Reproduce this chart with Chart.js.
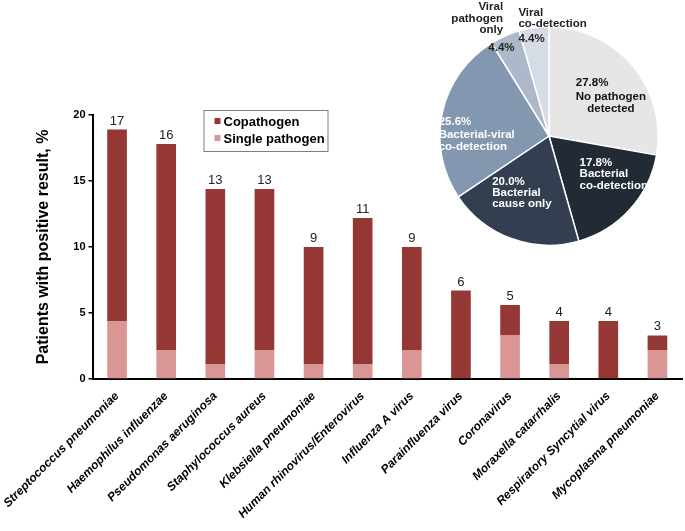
<!DOCTYPE html>
<html>
<head>
<meta charset="utf-8">
<script src="https://cdn.jsdelivr.net/npm/chart.js@4.4.1/dist/chart.umd.min.js"></script>
<style>
  html, body { margin: 0; padding: 0; background: #fff; }
  #wrap { position: relative; width: 685px; height: 531px; }
  #barChart { position: absolute; left: 0; top: 0; }
  #pieChart { position: absolute; left: 429px; top: 0; }
</style>
</head>
<body>
<div id="wrap">
  <canvas id="barChart" width="685" height="531"></canvas>
  <canvas id="pieChart" width="240" height="256"></canvas>
</div>
<script>
const FONT = '"Liberation Sans", Arial, sans-serif';

// Barres : % de patients positifs
const pathogenes = [
  'Streptococcus pneumoniae', 'Haemophilus influenzae', 'Pseudomonas aeruginosa',
  'Staphylococcus aureus', 'Klebsiella pneumoniae', 'Human rhinovirus/Enterovirus',
  'Influenza A virus', 'Parainfluenza virus', 'Coronavirus', 'Moraxella catarrhalis',
  'Respiratory Syncytial virus', 'Mycoplasma pneumoniae'
];
const singlePathogen = [4.4, 2.2, 1.1, 2.2, 1.1, 1.1, 2.2, 0, 3.3, 1.1, 0, 2.2];
const copathogen     = [14.5, 15.6, 13.3, 12.2, 8.9, 11.1, 7.8, 6.7, 2.3, 3.3, 4.4, 1.1];
const comptes        = [17, 16, 13, 13, 9, 11, 9, 6, 5, 4, 4, 3];
const yTicks         = [0, 5, 10, 15, 20];

// Camembert
const pieLabels = ['No pathogen detected', 'Bacterial co-detection', 'Bacterial cause only',
                   'Bacterial-viral co-detection', 'Viral pathogen only', 'Viral co-detection'];
const pieLignes = [['No pathogen', 'detected'], ['Bacterial', 'co-detection'], ['Bacterial', 'cause only'],
                   ['Bacterial-viral', 'co-detection'], ['Viral', 'pathogen', 'only'], ['Viral', 'co-detection']];
const pieValues = [27.8, 17.8, 20.0, 25.6, 4.4, 4.4];
const pieCouleurs = ['#E7E6E6', '#222A35', '#333F50', '#8497B0', '#ADB9CA', '#D6DCE5'];

const etiquettesValeurs = {
  id: 'etiquettesValeurs',
  afterDatasetsDraw(chart) {
    const ctx = chart.ctx;
    const meta = chart.getDatasetMeta(1);
    ctx.save();
    ctx.font = `13px ${FONT}`;
    ctx.fillStyle = '#222';
    ctx.textAlign = 'center';
    ctx.textBaseline = 'alphabetic';
    meta.data.forEach((bar, i) => ctx.fillText(comptes[i], bar.x, bar.y - 5));
    ctx.restore();
  }
};

const legendeBoite = {
  id: 'legendeBoite',
  afterDraw(chart) {
    const ctx = chart.ctx;
    const { left, top } = chart.chartArea;
    const x = left + 111, y = top - 5, w = 124, h = 41;
    ctx.save();
    ctx.strokeStyle = '#7f7f7f';
    ctx.lineWidth = 1;
    ctx.strokeRect(x + 0.5, y + 0.5, w, h);
    ctx.font = `bold 13px ${FONT}`;
    ctx.textBaseline = 'middle';
    const items = chart.data.datasets.slice().reverse();
    items.forEach((ds, i) => {
      const cy = y + 11 + i * 17;
      ctx.fillStyle = ds.backgroundColor;
      ctx.fillRect(x + 11, cy - 3, 6, 6);
      ctx.fillStyle = '#000';
      ctx.fillText(ds.label, x + 20, cy + 1);
    });
    ctx.restore();
  }
};

new Chart(document.getElementById('barChart'), {
  type: 'bar',
  data: {
    labels: pathogenes,
    datasets: [
      { label: 'Single pathogen', data: singlePathogen, backgroundColor: '#D99694' },
      { label: 'Copathogen', data: copathogen, backgroundColor: '#953735' }
    ]
  },
  options: {
    responsive: false,
    animation: false,
    events: [],
    layout: { padding: { top: 115, right: 3, left: 0, bottom: 0 } },
    datasets: { bar: { barPercentage: 0.4, categoryPercentage: 1 } },
    plugins: { legend: { display: false }, tooltip: { enabled: false } },
    scales: {
      x: {
        stacked: true,
        grid: { display: false },
        border: { color: '#000', width: 2 },
        ticks: {
          color: '#000', autoSkip: false, minRotation: 45, maxRotation: 45, padding: 2,
          font: { family: FONT, size: 12, weight: 'bold', style: 'italic' }
        },
        afterFit: (s) => { s.height = 152; }
      },
      y: {
        stacked: true, min: 0, max: 20,
        afterBuildTicks: (s) => { s.ticks = yTicks.map(v => ({ value: v })); },
        ticks: { color: '#000', padding: 3, font: { family: FONT, size: 11, weight: 'bold' } },
        grid: { drawOnChartArea: false, drawTicks: true, tickLength: 4, color: '#000', lineWidth: 1.5 },
        border: { color: '#000', width: 2 },
        title: {
          display: true, text: 'Patients with positive result, %', color: '#000',
          font: { family: FONT, size: 16, weight: 'bold' }, padding: { top: 32, bottom: 0 }
        },
        afterFit: (s) => { s.width = 91; }
      }
    }
  },
  plugins: [etiquettesValeurs, legendeBoite]
});

// placement des textes du camembert, en fraction du rayon
const placements = [
  { dx: 0.245, pct: -0.49, nom: -0.355, align: 'left', centre: true, color: '#111' },
  { dx: 0.28, pct: 0.245, nom: 0.35, align: 'left', color: '#fff' },
  { dx: -0.52, pct: 0.42, nom: 0.52, align: 'left', color: '#fff' },
  { dx: -1.01, pct: -0.13, nom: -0.01, align: 'left', color: '#fff' },
  { dx: -0.42, pct: -0.81, nom: -1.18, align: 'right', pdx: -0.555, color: '#222' },
  { dx: -0.28, pct: -0.89, nom: -1.13, align: 'left', color: '#222' }
];

const etiquettesPie = {
  id: 'etiquettesPie',
  afterDraw(chart) {
    const ctx = chart.ctx;
    const arc = chart.getDatasetMeta(0).data[0];
    const cx = arc.x, cy = arc.y, r = arc.outerRadius;
    ctx.save();
    ctx.font = `bold 11.5px ${FONT}`;
    ctx.textBaseline = 'middle';
    placements.forEach((p, i) => {
      ctx.fillStyle = p.color;
      const x = cx + p.dx * r;
      const px = p.pdx !== undefined ? cx + p.pdx * r : x;
      ctx.textAlign = 'left';
      ctx.fillText(`${pieValues[i].toFixed(1)}%`, px, cy + p.pct * r);
      const lignes = pieLignes[i];
      const larg = Math.max(...lignes.map(l => ctx.measureText(l).width));
      lignes.forEach((l, j) => {
        const y = cy + p.nom * r + j * 11.5;
        if (p.centre) {
          ctx.textAlign = 'center';
          ctx.fillText(l, x + larg / 2, y);
        } else {
          ctx.textAlign = p.align;
          ctx.fillText(l, x, y);
        }
      });
    });
    ctx.restore();
  }
};

new Chart(document.getElementById('pieChart'), {
  type: 'pie',
  data: {
    labels: pieLabels,
    datasets: [{
      data: pieValues,
      backgroundColor: pieCouleurs,
      borderColor: '#fff',
      borderWidth: 1.5,
      hoverOffset: 0
    }]
  },
  options: {
    responsive: false,
    animation: false,
    events: [],
    layout: { padding: { top: 26, bottom: 10, left: 10, right: 10 } },
    plugins: { legend: { display: false }, tooltip: { enabled: false } }
  },
  plugins: [etiquettesPie]
});
</script>
</body>
</html>
